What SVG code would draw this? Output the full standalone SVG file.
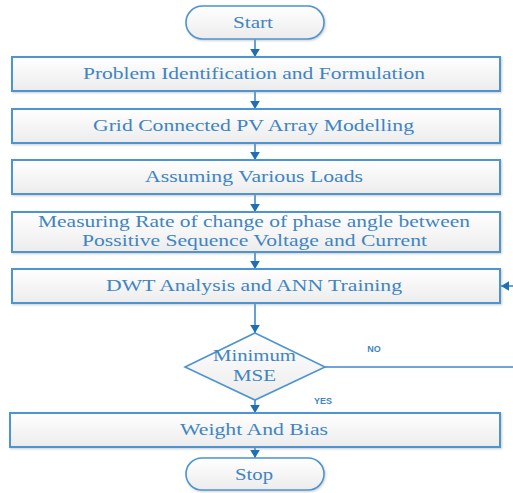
<svg xmlns="http://www.w3.org/2000/svg" width="513" height="493" viewBox="0 0 513 493">
<style>
.box{fill:url(#g);stroke:#4d94d0;stroke-width:2}
.t{font-family:"Liberation Serif",serif;font-size:16.5px;fill:#3f85c2;text-anchor:middle}
.l{font-family:"Liberation Sans",sans-serif;font-size:9px;font-weight:bold;fill:#3f85c2;text-anchor:middle}
.c{stroke:#3d89c9;stroke-width:1.6;fill:none}
</style>
<defs>
<linearGradient id="g" x1="0" y1="0" x2="0" y2="1"><stop offset="0" stop-color="#ffffff"/><stop offset="1" stop-color="#ececec"/></linearGradient>
<marker id="a" viewBox="0 0 10 12" refX="10" refY="6" markerWidth="8" markerHeight="12" orient="auto" markerUnits="userSpaceOnUse"><path d="M0,0L10,6L0,12z" fill="#1f6fb8"/></marker>
<filter id="s" x="-5%" y="-20%" width="110%" height="150%"><feDropShadow dx="1" dy="1" stdDeviation="1" flood-color="#999" flood-opacity="0.5"/></filter>
</defs>
<g id="connectors">
<line class="c" x1="255" y1="39" x2="255" y2="57" marker-end="url(#a)"/>
<line class="c" x1="255" y1="91" x2="255" y2="109" marker-end="url(#a)"/>
<line class="c" x1="255" y1="143" x2="255" y2="160" marker-end="url(#a)"/>
<line class="c" x1="255" y1="194" x2="255" y2="212" marker-end="url(#a)"/>
<line class="c" x1="255" y1="252" x2="255" y2="269" marker-end="url(#a)"/>
<line class="c" x1="255" y1="303" x2="255" y2="333" marker-end="url(#a)"/>
<line class="c" x1="255" y1="400" x2="255" y2="413" marker-end="url(#a)"/>
<line class="c" x1="255" y1="447" x2="255" y2="458" marker-end="url(#a)"/>
<line class="c" x1="325" y1="367" x2="513" y2="367"/>
<line class="c" x1="513" y1="286" x2="501" y2="286" marker-end="url(#a)"/>
<text class="l" x="374" y="352">NO</text>
<text class="l" x="323" y="404">YES</text>
</g>
<g id="start"><rect x="186" y="6" width="138" height="33" rx="16.5" fill="url(#g)" stroke="#4d94d0" stroke-width="1.6" filter="url(#s)"/><text class="t" x="253" y="28" textLength="40" lengthAdjust="spacingAndGlyphs">Start</text></g>
<g id="problem"><rect class="box" x="12" y="57" width="488" height="34" filter="url(#s)"/><text class="t" x="254" y="79" textLength="342" lengthAdjust="spacingAndGlyphs">Problem Identification and Formulation</text></g>
<g id="grid"><rect class="box" x="12" y="109" width="488" height="34" filter="url(#s)"/><text class="t" x="253.5" y="131" textLength="321" lengthAdjust="spacingAndGlyphs">Grid Connected PV Array Modelling</text></g>
<g id="loads"><rect class="box" x="12" y="160" width="488" height="34" filter="url(#s)"/><text class="t" x="254" y="182" textLength="218" lengthAdjust="spacingAndGlyphs">Assuming Various Loads</text></g>
<g id="measure"><rect class="box" x="12" y="212" width="488" height="40" filter="url(#s)"/><text class="t" x="254" y="227" textLength="432" lengthAdjust="spacingAndGlyphs">Measuring Rate of change of phase angle between</text><text class="t" x="254.5" y="246" textLength="345" lengthAdjust="spacingAndGlyphs">Possitive Sequence Voltage and Current</text></g>
<g id="dwt"><rect class="box" x="12" y="269" width="488" height="34" filter="url(#s)"/><text class="t" x="254" y="291" textLength="296" lengthAdjust="spacingAndGlyphs">DWT Analysis and ANN Training</text></g>
<g id="decision"><polygon points="255,333 325,367 255,400 185,367" fill="url(#g)" stroke="#4d94d0" stroke-width="1.6"/><text class="t" x="254.5" y="361" textLength="83" lengthAdjust="spacingAndGlyphs">Minimum</text><text class="t" x="254.5" y="381" textLength="43" lengthAdjust="spacingAndGlyphs">MSE</text></g>
<g id="weight"><rect class="box" x="10" y="413" width="490" height="34" filter="url(#s)"/><text class="t" x="254" y="435" textLength="148" lengthAdjust="spacingAndGlyphs">Weight And Bias</text></g>
<g id="stop"><rect x="186" y="458" width="138" height="32" rx="16" fill="url(#g)" stroke="#4d94d0" stroke-width="1.6" filter="url(#s)"/><text class="t" x="254" y="480" textLength="38" lengthAdjust="spacingAndGlyphs">Stop</text></g>
</svg>
